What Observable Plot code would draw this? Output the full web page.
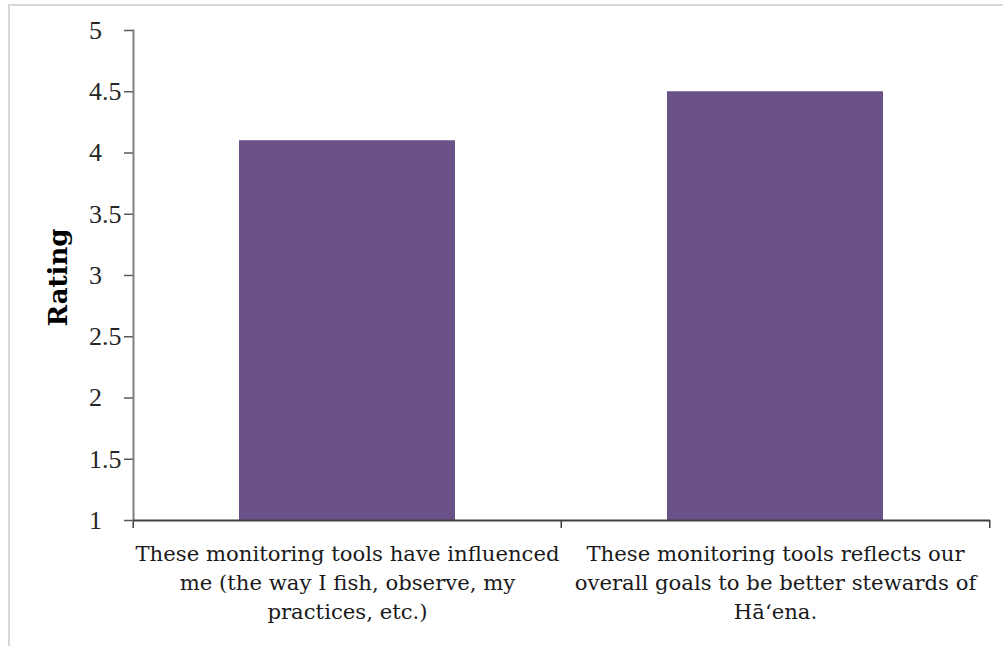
<!DOCTYPE html>
<html>
<head>
<meta charset="utf-8">
<script src="https://cdn.jsdelivr.net/npm/d3@7"></script>
<script src="https://cdn.jsdelivr.net/npm/@observablehq/plot@0.6"></script>
<style>
  html, body { margin: 0; padding: 0; background: #fff; }
  #wrap { position: relative; width: 1003px; height: 646px; }
  #edge { position: absolute; left: 8px; top: 4px; right: 0; bottom: 0;
          border-top: 2px solid #d9d9d9; border-left: 2px solid #d9d9d9; pointer-events: none; }
</style>
</head>
<body>
<div id="wrap"><div id="edge"></div></div>
<script>
// Survey statements and their mean ratings (1–5 scale)
const questions = [
  "These monitoring tools have influenced me (the way I fish, observe, my practices, etc.)",
  "These monitoring tools reflects our overall goals to be better stewards of Hā‘ena."
];
const questionLabels = [
  "These monitoring tools have influenced\nme (the way I fish, observe, my\npractices, etc.)",
  "These monitoring tools reflects our\noverall goals to be better stewards of\nHā‘ena."
];
const ratings = [4.1, 4.5];
const ratingTicks = [1, 1.5, 2, 2.5, 3, 3.5, 4, 4.5, 5];

const data = questions.map((q, i) => ({question: q, rating: ratings[i]}));
const labelOf = new Map(questions.map((q, i) => [q, questionLabels[i]]));

const width = 1003, height = 646;
const margin = {left: 133, right: 13, top: 30, bottom: 126};
const step = (width - margin.left - margin.right) / questions.length;
const serif = "DejaVu Serif, Liberation Serif, serif";
const numFont = "Liberation Serif, DejaVu Serif, serif";

// integers keep decimal alignment with the half-step labels
const fmtTick = d => Number.isInteger(d) ? `${d}\u2008\u2007` : `${d}`;

const chart = Plot.plot({
  width, height,
  marginLeft: margin.left, marginRight: margin.right,
  marginTop: margin.top, marginBottom: margin.bottom,
  style: `font-family: ${serif}; color: #262626; background: transparent;`,
  x: {domain: questions, paddingInner: 0.495, paddingOuter: 0.2475, label: null},
  y: {domain: [1, 5], label: null},
  marks: [
    Plot.barY(data, {x: "question", y1: 1, y2: "rating", fill: "#6a5288"}),
    // category labels under each band
    Plot.axisX({tickSize: 0, tickPadding: 20, tickFormat: d => labelOf.get(d),
                fontFamily: serif, fontSize: 21.2, lineHeight: 1.37, fill: "#1a1a1a", label: null}),
    // boundary ticks between categories
    Plot.axisX({tickSize: 8, text: null, dx: -step / 2, stroke: "#404040", strokeWidth: 1.5, label: null}),
    Plot.axisX({ticks: [questions[questions.length - 1]], tickSize: 8, text: null, dx: step / 2,
                stroke: "#404040", strokeWidth: 1.5, label: null}),
    Plot.axisY({ticks: ratingTicks, tickSize: 9, tickPadding: 3, tickFormat: fmtTick,
                fontFamily: numFont, fontSize: 26, stroke: "#595959", strokeWidth: 1.5, fill: "#262626", label: null}),
    Plot.frame({anchor: "left", stroke: "#808080", strokeWidth: 2}),
    Plot.ruleY([1], {stroke: "#404040", strokeWidth: 2}),
    Plot.text(["Rating"], {frameAnchor: "left", text: d => d, rotate: -90, dx: -75, dy: 2,
                textAnchor: "middle", fontFamily: serif, fontWeight: "bold", fontSize: 26, fill: "#000"})
  ]
});

document.getElementById("wrap").prepend(chart);
chart.style.position = "absolute";
chart.style.left = "0";
chart.style.top = "0";
</script>
</body>
</html>
